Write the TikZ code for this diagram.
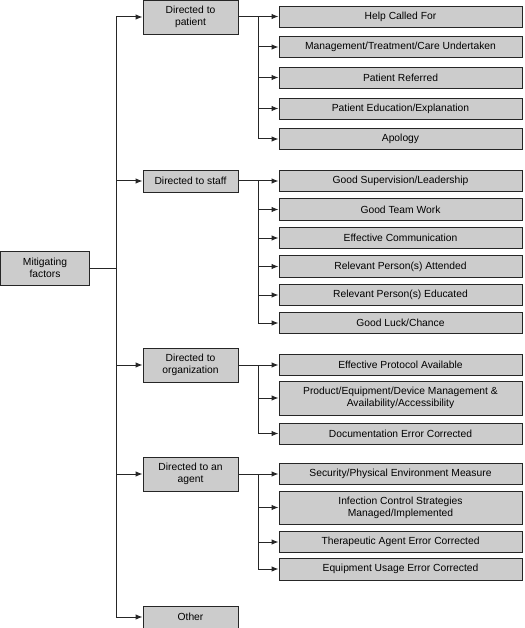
\documentclass[tikz,border=0pt]{standalone}
\usepackage{fontspec}
\setmainfont{Liberation Sans}
\usetikzlibrary{arrows.meta}

\tikzset{
  factor/.style={draw=black!85, fill=gray!40, line width=0.9pt, align=center,
    inner sep=0pt, font=\fontsize{10.3}{12}\selectfont},
  rootbox/.style={factor, minimum width=89pt, minimum height=34pt},
  groupbox/.style={factor, minimum width=95pt},
  leafbox/.style={factor, minimum width=243pt},
  link/.style={line width=1pt, draw=black!85},
  feed/.style={link, -{Latex[length=7pt,width=5.5pt]}},
}

\begin{document}
\begin{tikzpicture}[x=1pt, y=-1pt, line join=miter]
        % parameters (columns of the tree, y runs downwards)
        \def\xroot{45}     % centre of the root box
        \def\xtrunk{116}   % main vertical line
        \def\xgroup{190.5} % centre of the group boxes
        \def\xbranch{258}  % vertical lines of the groups
        \def\xleaf{400.5}  % centre of the leaf boxes

        \useasboundingbox (0,0) rectangle (524,628);

        % root
        \node[rootbox] (root) at (\xroot,268) {Mitigating\\factors};

        % groups
        \node[groupbox, minimum height=34pt] (patient)      at (\xgroup,17)  {Directed to\\patient};
        \node[groupbox, minimum height=22pt] (staff)        at (\xgroup,181) {Directed to staff};
        \node[groupbox, minimum height=34pt] (organization) at (\xgroup,365) {Directed to\\organization};
        \node[groupbox, minimum height=34pt] (agent)        at (\xgroup,474) {Directed to an\\agent};
        \node[groupbox, minimum height=22pt] (other)        at (\xgroup,617) {Other};

        % leaves directed to patient
        \foreach \name/\y/\txt in {help/16.5/{Help Called For},
                                   management/47/{Management/Treatment/Care Undertaken},
                                   referred/77.5/{Patient Referred},
                                   education/108.5/{Patient Education/Explanation},
                                   apology/139/{Apology}}{
            \node[leafbox, minimum height=21pt] (\name) at (\xleaf,\y) {\txt};
        }

        % leaves directed to staff
        \foreach \name/\y/\txt in {supervision/181/{Good Supervision/Leadership},
                                   teamwork/209.5/{Good Team Work},
                                   communication/238/{Effective Communication},
                                   attended/266.5/{Relevant Person(s) Attended},
                                   educated/295/{Relevant Person(s) Educated},
                                   luck/323/{Good Luck/Chance}}{
            \node[leafbox, minimum height=21.5pt] (\name) at (\xleaf,\y) {\txt};
        }

        % leaves directed to organization
        \node[leafbox, minimum height=21pt] (protocol) at (\xleaf,365) {Effective Protocol Available};
        \node[leafbox, minimum height=34pt] (product)  at (\xleaf,398) {Product/Equipment/Device Management \&\\Availability/Accessibility};
        \node[leafbox, minimum height=21pt] (documentation) at (\xleaf,433.5) {Documentation Error Corrected};

        % leaves directed to an agent
        \node[leafbox, minimum height=21pt] (security)    at (\xleaf,474)   {Security/Physical Environment Measure};
        \node[leafbox, minimum height=33pt] (infection)   at (\xleaf,507.5) {Infection Control Strategies\\Managed/Implemented};
        \node[leafbox, minimum height=21pt] (therapeutic) at (\xleaf,542)   {Therapeutic Agent Error Corrected};
        \node[leafbox, minimum height=22pt] (usage)       at (\xleaf,569)   {Equipment Usage Error Corrected};

        % trunk
        \coordinate (trunk top) at (\xtrunk,17);
        \draw[link] (trunk top) -- (trunk top |- other.west);
        \draw[link] (root.east) -- (root.east -| trunk top);
        \foreach \g in {patient,staff,organization,agent,other}
            \draw[feed] (trunk top |- \g.west) -- (\g.west);

        % branches
        \foreach \g/\first/\last in {patient/help/apology,
                                     staff/supervision/luck,
                                     organization/protocol/documentation,
                                     agent/security/usage}{
            \coordinate (\g branch) at (\xbranch,0 |- \g.east);
            \draw[link] (\g.east) -- (\g branch) -- (\g branch |- \last.west);
        }
        \foreach \b/\l in {patient/help, patient/management, patient/referred,
                           patient/education, patient/apology,
                           staff/supervision, staff/teamwork, staff/communication,
                           staff/attended, staff/educated, staff/luck,
                           organization/protocol, organization/product,
                           organization/documentation,
                           agent/security, agent/infection, agent/therapeutic,
                           agent/usage}
            \draw[feed] (\b branch |- \l.west) -- (\l.west);
\end{tikzpicture}
\end{document}
